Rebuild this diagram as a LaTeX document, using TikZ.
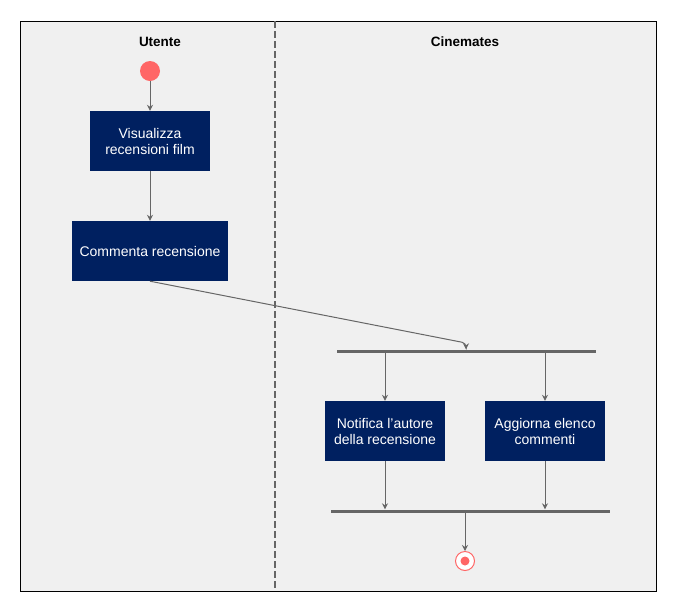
\documentclass[tikz,border=0pt]{standalone}
\usepackage{fontspec}
\setmainfont{Liberation Sans}
\usetikzlibrary{arrows.meta}
\definecolor{navy}{HTML}{002060}
\definecolor{lane}{HTML}{F0F0F0}
\definecolor{edge}{HTML}{666666}
\definecolor{startred}{HTML}{FF6666}
\tikzset{
  act/.style={draw=none,fill=navy,text=white,align=center,font=\fontsize{14}{16}\selectfont,inner sep=0pt},
  bar/.style={fill=edge,draw=none,minimum height=3pt,inner sep=0pt},
  flow/.style={draw=edge,line width=1pt,-{Stealth[length=6pt,width=6pt]}},
  lanelabel/.style={font=\bfseries\fontsize{13.5}{15}\selectfont},
}
\begin{document}
\begin{tikzpicture}[x=1pt,y=-1pt]
\useasboundingbox (0,0) rectangle (677,614);
\fill[white] (0,0) rectangle (677,614);
\draw[fill=lane,line width=1pt] (20,21) rectangle (656,591);
\draw[edge,line width=1.8pt,dash pattern=on 7pt off 3pt] (275,21) -- (275,591);
\node[lanelabel] (lu) at (160,42) {Utente};
\node[lanelabel] (lc) at (465,42) {Cinemates};
\node[circle,fill=startred,minimum size=20pt,inner sep=0pt] (start) at (150,71) {};
\node[act,minimum width=120pt,minimum height=60pt] (vis) at (150,141) {Visualizza\\recensioni film};
\node[act,minimum width=156pt,minimum height=60pt] (com) at (150,251) {Commenta recensione};
\node[bar,minimum width=259pt] (fork) at (466.5,351) {};
\node[act,minimum width=120pt,minimum height=60pt] (not) at (385,431) {Notifica l{\char"0027}autore\\della recensione};
\node[act,minimum width=120pt,minimum height=60pt] (agg) at (545,431) {Aggiorna elenco\\commenti};
\node[bar,minimum width=279pt] (join) at (470.5,511) {};
\node[circle,draw=startred,fill=white,line width=1pt,minimum size=19pt,inner sep=0pt] (end) at (465,561) {};
\node[circle,fill=startred,minimum size=9pt,inner sep=0pt] (endin) at (465,561) {};
\coordinate (bend) at (466,343);
\draw[flow,rounded corners=4pt] (com.south) -- (bend) -- (bend |- fork.north);
\draw[flow] (start) -- (vis);
\draw[flow] (vis) -- (com);
\draw[flow] (fork.south -| not.north) -- (not.north);
\draw[flow] (fork.south -| agg.north) -- (agg.north);
\draw[flow] (not.south) -- (not.south |- join.north);
\draw[flow] (agg.south) -- (agg.south |- join.north);
\draw[flow] (join.south -| end.north) -- (end.north);
\end{tikzpicture}
\end{document}
